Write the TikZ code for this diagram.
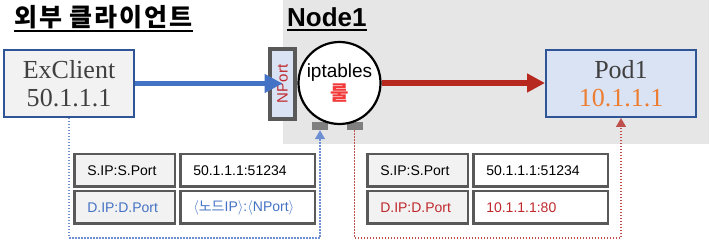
\documentclass[tikz,border=0pt]{standalone}
\usepackage{fontspec}
\setmainfont{Liberation Serif}
\setsansfont{Liberation Sans}
\newfontfamily\krfont{Noto Sans CJK KR}
\newfontfamily\krtitle{Noto Sans CJK KR}[LetterSpace = 8]
\usetikzlibrary{arrows.meta,positioning}
\definecolor{nodebg}{HTML}{E7E6E6}
\definecolor{boxline}{HTML}{2F5597}
\definecolor{clientfill}{HTML}{F2F2F2}
\definecolor{podfill}{HTML}{DAE3F3}
\definecolor{textgrey}{HTML}{404040}
\definecolor{cellline}{HTML}{595959}
\definecolor{flowblue}{HTML}{4472C4}
\definecolor{flowred}{HTML}{B7281E}
\definecolor{dotblue}{HTML}{6F8FD3}
\definecolor{dotred}{HTML}{C0504D}
\definecolor{tabred}{HTML}{C0282D}
\definecolor{rulered}{HTML}{F23A3A}
\definecolor{podorange}{HTML}{ED7D31}
\definecolor{portgrey}{HTML}{7F7F7F}

\begin{document}
\begin{tikzpicture}[x = 1pt, y = -1pt,
	titletext/.style = {anchor = base west, inner sep = 0pt},
	hostbox/.style = {draw = boxline, line width = 2pt, minimum width = 130pt,
		minimum height = 67pt, align = center, text = textgrey,
		font = \fontsize{26}{28}\selectfont},
	nportbox/.style = {draw = cellline, fill = podfill, line width = 3.5pt,
		rotate = 90, minimum width = 70pt, minimum height = 25pt, inner sep = 0pt,
		text = tabred, font = \sffamily\fontsize{15}{15}\selectfont},
	ruleball/.style = {circle, draw = black, fill = white, line width = 2.2pt,
		minimum size = 82pt, inner sep = 0pt, align = center,
		font = \sffamily\fontsize{19}{23}\selectfont},
	portsq/.style = {fill = portgrey, minimum width = 16pt, minimum height = 8pt,
		inner sep = 0pt},
	keycell/.style = {draw = cellline, fill = clientfill, line width = 2.5pt,
		minimum height = 32.5pt, inner xsep = 13pt, text width = 74.5pt,
		align = left, font = \sffamily\fontsize{14}{14}\selectfont},
	valcell/.style = {keycell, fill = white, text width = 108.5pt},
	flowarrow/.style = {line width = 5.5pt, -{Triangle[length = 18pt, width = 18pt]}},
	dotline/.style = {line width = 1.5pt, dash pattern = on 1.5pt off 1.5pt,
		-{Triangle[length = 9pt, width = 10pt]}}
	]
	\useasboundingbox (0,0) rectangle (709,245);
	
	% node area
	\fill[nodebg] (283,0) rectangle (709,144);
	
	% titles
	\node[titletext, font = \krtitle\bfseries\fontsize{25}{25}\selectfont] (clienttitle) at (14,27) {외부 클라이언트};
	\draw[line width = 2pt] ([yshift = -4pt]clienttitle.base west) -- ([yshift = -4pt]clienttitle.base east);
	\node[titletext, font = \sffamily\bfseries\fontsize{26}{26}\selectfont] (nodetitle) at (287,27) {Node1};
	\draw[line width = 2pt] ([yshift = -3pt]nodetitle.base west) -- ([yshift = -3pt]nodetitle.base east);
	
	% hosts
	\node[hostbox, fill = clientfill] (exclient) at (69,83.5) {ExClient\\50.1.1.1};
	\node[hostbox, fill = podfill, minimum width = 150pt] (pod) at (621,83.5) {Pod1\\\textcolor{podorange}{10.1.1.1}};
	
	% iptables
	\node[portsq] (portL) at (320,126) {};
	\node[portsq] (portR) at (354.5,126) {};
	\node[nportbox] (nport) at (282.5,84) {NPort};
	\node[ruleball] (iptables) at (339.5,83) {iptables\\{\krfont\bfseries\fontsize{20}{20}\selectfont\textcolor{rulered}{룰}}};
	
	% traffic
	\draw[flowarrow, flowblue] (exclient.east) -- (exclient.east -| nport.west);
	\draw[flowarrow, flowred] (iptables.east) -- (iptables.east -| pod.west);
	
	% packet before DNAT
	\node[keycell] (srcL) at (124.5,170.5) {S.IP:S.Port};
	\node[valcell, right = 3pt of srcL] (srcvalL) {50.1.1.1:51234};
	\node[keycell, below = 2pt of srcL, text = flowblue] (dstL) {D.IP:D.Port};
	\node[valcell, right = 3pt of dstL, text = flowblue] (dstvalL) {$\langle${\krfont 노드}IP$\rangle$:$\langle$NPort$\rangle$};
	
	% packet after DNAT
	\node[keycell] (srcR) at (417.5,170.5) {S.IP:S.Port};
	\node[valcell, right = 3pt of srcR] (srcvalR) {50.1.1.1:51234};
	\node[keycell, below = 2pt of srcR, text = tabred] (dstR) {D.IP:D.Port};
	\node[valcell, right = 3pt of dstR, text = tabred] (dstvalR) {10.1.1.1:80};
	
	% dotted paths
	\coordinate (lowline) at (0,238);
	\draw[dotline, dotblue] (exclient.south) -- (exclient.south |- lowline) -| (portL.south);
	\draw[dotline, dotred] (portR.south) -- (portR.south |- lowline) -| (pod.south);
	
\end{tikzpicture}
\end{document}
